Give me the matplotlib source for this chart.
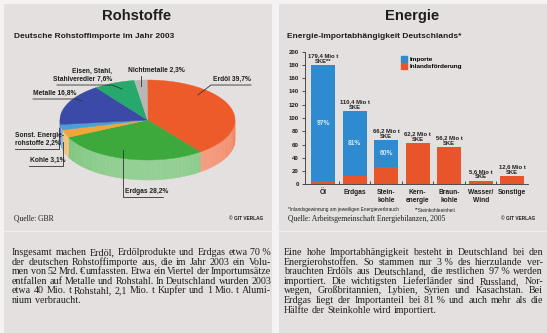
import matplotlib
matplotlib.use("Agg")
import matplotlib.pyplot as plt
import numpy as np
from matplotlib.patches import Polygon, Rectangle, Patch
from matplotlib.colors import to_rgb

# --- Rohstoffe (pie) ---
pie_labels = ["Erdöl 39,7%", "Erdgas 28,2%", "Kohle 3,1%", "Sonst. Energie-\nrohstoffe 2,2%",
              "Metalle 16,8%", "Eisen, Stahl,\nStahlveredler 7,6%", "Nichtmetalle 2,3%"]
pie_values = [39.7, 28.2, 3.1, 2.2, 16.8, 7.6, 2.3]
pie_colors = ["#ee5b2a", "#3da93c", "#f4a53a", "#4a9fd8", "#3b4aa6", "#27a86c", "#b9b7b5"]

# --- Energie (bars) ---
bar_cats = ["Öl", "Erdgas", "Stein-\nkohle", "Kern-\nenergie", "Braun-\nkohle", "Wasser/\nWind", "Sonstige"]
bar_total = [179.4, 110.4, 66.2, 62.2, 56.2, 5.6, 12.6]
bar_domestic = [5.0, 12.0, 26.5, 62.2, 56.2, 5.6, 12.6]
bar_share = ["97%", "81%", "60%", "", "", "", ""]
yticks = [0, 20, 40, 60, 80, 100, 120, 140, 160, 180, 200]

text_left = [
    "Insgesamt machen Erdöl, Erdölprodukte und Erdgas etwa 70\u00a0%",
    "der deutschen Rohstoffimporte aus, die im Jahr 2003 ein Volu-",
    "men von 52 Mrd. € umfassten. Etwa ein Viertel der Importumsätze",
    "entfallen auf Metalle und Rohstahl. In Deutschland wurden 2003",
    "etwa 40 Mio. t Rohstahl, 2,1 Mio. t Kupfer und 1 Mio. t Alumi-",
    "nium verbraucht.",
]
text_right = [
    "Eine hohe Importabhängigkeit besteht in Deutschland bei den",
    "Energierohstoffen. So stammen nur 3\u00a0% des hierzulande ver-",
    "brauchten Erdöls aus Deutschland, die restlichen 97\u00a0% werden",
    "importiert. Die wichtigsten Lieferländer sind Russland, Nor-",
    "wegen, Großbritannien, Lybien, Syrien und Kasachstan. Bei",
    "Erdgas liegt der Importanteil bei 81\u00a0% und auch mehr als die",
    "Hälfte der Steinkohle wird importiert.",
]

SANS = ["Liberation Sans", "DejaVu Sans"]
SERIF = ["Liberation Serif", "DejaVu Serif"]
INK = "#1e1e1e"

W, H = 547, 333
fig = plt.figure(figsize=(W / 100, H / 100), dpi=100)
fig.patch.set_facecolor("#f4f2f2")
bg = fig.add_axes([0, 0, 1, 1])
bg.set_xlim(0, W)
bg.set_ylim(H, 0)
bg.axis("off")

# panels
panel = "#e3e0df"
bg.add_patch(Rectangle((4, 4), 268, 340, color=panel, lw=0))
bg.add_patch(Rectangle((279, 4), 270, 340, color=panel, lw=0))
bg.plot([4, 272], [231, 231], color="#efeded", lw=1)
bg.plot([279, 547], [231, 231], color="#efeded", lw=1)

# headings
bg.text(137, 16, "Rohstoffe", family=SANS, weight="bold", fontsize=10.6, ha="center", va="center", color=INK)
bg.text(412, 16, "Energie", family=SANS, weight="bold", fontsize=10.6, ha="center", va="center", color=INK)
bg.text(14, 36, "Deutsche Rohstoffimporte im Jahr 2003", family=SANS, weight="bold", fontsize=6.0,
        va="center", color=INK)
bg.text(287, 36, "Energie-Importabhängigkeit Deutschlands*", family=SANS, weight="bold", fontsize=6.0,
        va="center", color=INK)

# --- 3D pie ---
cx, cy, rx, ry, depth = 147.5, 120, 87.5, 40, 20


def ell(t):
    t = np.radians(t)
    return cx + rx * np.cos(t), cy - ry * np.sin(t)


def lighter(c, f):
    r = np.array(to_rgb(c))
    return tuple(r + (1 - r) * f)


starts = []
a = 90.0
for v in pie_values:
    starts.append((a - 360 * v / 100, a))
    a -= 360 * v / 100

# side walls (front half only)
for (lo, hi), col in zip(starts, pie_colors):
    s_lo, s_hi = max(lo, -180), min(hi, 0)
    if s_lo >= s_hi:
        continue
    n = max(int((s_hi - s_lo) / 2), 2)
    ts = np.linspace(s_lo, s_hi, n + 1)
    for t0, t1 in zip(ts[:-1], ts[1:]):
        x0, y0 = ell(t0)
        x1, y1 = ell(t1)
        shade = 0.25 + 0.2 * np.cos(np.radians((t0 + t1) / 2 + 90))
        bg.add_patch(Polygon([(x0, y0), (x1, y1), (x1, y1 + depth), (x0, y0 + depth)],
                             closed=True, color=lighter(col, shade), lw=0.3))

# top face
for (lo, hi), col in zip(starts, pie_colors):
    ts = np.linspace(lo, hi, 80)
    pts = [(cx, cy)] + [ell(t) for t in ts]
    bg.add_patch(Polygon(pts, closed=True, color=col, lw=0.3))

# pie labels with leader lines
lab_kw = dict(family=SANS, weight="bold", fontsize=4.8, color=INK)
lead_kw = dict(color="#333333", lw=0.6)
bg.text(213, 83, pie_labels[0], va="bottom", **lab_kw)
bg.plot([251, 211, 198], [85, 85, 95], **lead_kw)
bg.text(125, 195, pie_labels[1], va="bottom", **lab_kw)
bg.plot([163, 123, 123], [197, 197, 150], **lead_kw)
bg.text(30, 164, pie_labels[2], va="bottom", **lab_kw)
bg.plot([29, 63, 63], [166, 166, 142], **lead_kw)
bg.text(15, 147, pie_labels[3], va="bottom", ha="left", linespacing=1.2, **lab_kw)
bg.plot([15, 59, 59], [149, 149, 128], **lead_kw)
bg.text(33, 97, pie_labels[4], va="bottom", **lab_kw)
bg.plot([33, 76, 82], [99, 99, 101], **lead_kw)
bg.text(112, 83, pie_labels[5], va="bottom", ha="right", multialignment="right", linespacing=1.2, **lab_kw)
bg.plot([57, 112, 122], [85, 85, 89], **lead_kw)
bg.text(128, 74, pie_labels[6], va="bottom", **lab_kw)
bg.plot([141, 141], [76, 86], **lead_kw)

# sources
bg.text(14, 219, "Quelle: GBR", family=SERIF, fontsize=5.5, va="center", color=INK)
bg.text(263, 219, "© GIT VERLAG", family=SANS, weight="bold", fontsize=3.4, ha="right", va="center", color=INK)
bg.text(288, 219, "Quelle: Arbeitsgemeinschaft Energiebilanzen, 2005", family=SERIF, fontsize=5.5,
        va="center", color=INK)
bg.text(535, 219, "© GIT VERLAG", family=SANS, weight="bold", fontsize=3.4, ha="right", va="center", color=INK)
bg.text(288, 210, "*Inlandsgewinnung am jeweiligen Energieverbrauch", family=SANS, fontsize=3.4,
        va="center", color=INK)
bg.text(415, 210, "**Steinkohleeinheit", family=SANS, fontsize=3.4, va="center", color=INK)

# --- bar chart ---
y0px, y200px = 184.3, 51.7
ax = fig.add_axes([305 / W, (H - y0px) / H, 223 / W, (y0px - y200px) / H])
ax.patch.set_alpha(0)
x = np.arange(len(bar_cats))
total = np.array(bar_total)
dom = np.array(bar_domestic)
blue, red = "#2e8bcf", "#e8552b"
ax.bar(x, dom, width=0.76, color=red, lw=0)
ax.bar(x, total - dom, bottom=dom, width=0.76, color=blue, lw=0)
ax.set_xlim(-0.57, 6.5)
ax.set_ylim(0, 200)
ax.set_yticks(yticks)
ax.set_yticklabels([str(v) for v in yticks], family=SANS, weight="bold", fontsize=4.4, color=INK)
ax.tick_params(axis="y", length=2.5, width=0.6, pad=2, color="#333333")
ax.set_xticks(x)
ax.set_xticklabels(bar_cats, family=SANS, weight="bold", fontsize=4.8, color=INK, linespacing=1.15)
ax.tick_params(axis="x", which="major", length=0, pad=3.5)
ax.set_xticks(x[:-1] + 0.5, minor=True)
ax.tick_params(axis="x", which="minor", direction="in", length=2.5, width=0.6, color="#333333")
for s in ["top", "right"]:
    ax.spines[s].set_visible(False)
for s in ["left", "bottom"]:
    ax.spines[s].set_linewidth(0.6)
    ax.spines[s].set_color("#333333")

for i, v in enumerate(total):
    star = "**" if i == 0 else ""
    ax.text(i, v + 2, f"{v:.1f}".replace(".", ",") + " Mio t\nSKE" + star, ha="center", va="bottom",
            family=SANS, weight="bold", fontsize=4.2, color=INK, linespacing=1.15)
    if bar_share[i]:
        ax.text(i, (v + dom[i]) / 2, bar_share[i], ha="center", va="center", family=SANS,
                weight="bold", fontsize=4.8, color="#d5eaf7")

ax.legend(handles=[Patch(color=blue, label="Importe"), Patch(color=red, label="Inlandsförderung")],
          loc="upper left", bbox_to_anchor=(401 / W, 1 - 56 / H), bbox_transform=fig.transFigure,
          frameon=False, handlelength=1.0, handleheight=1.0, handletextpad=0.3, labelspacing=0.2,
          borderpad=0, borderaxespad=0, prop=dict(family=SANS, weight="bold", size=4.6))

# --- justified body text ---
renderer = fig.canvas.get_renderer()
BODY = 7.2


def word_width(s):
    t = bg.text(0, 0, s, family=SERIF, fontsize=BODY)
    w = t.get_window_extent(renderer).width
    t.remove()
    return w


SPACE = word_width("a a") - 2 * word_width("a")


def body(lines, x0, x1, y_start, step):
    for k, line in enumerate(lines):
        y = y_start + k * step + 3
        words = line.split(" ")
        widths = [word_width(w) for w in words]
        if k == len(lines) - 1:
            gap = SPACE
        else:
            gap = (x1 - x0 - sum(widths)) / max(len(words) - 1, 1)
        xx = x0
        for w, wd in zip(words, widths):
            bg.text(xx, y, w, family=SERIF, fontsize=BODY, va="baseline", color=INK)
            xx += wd + gap


body(text_left, 12, 271, 252, 9.6)
body(text_right, 284, 543, 252, 9.6)

fig.savefig("out.png", dpi=100, facecolor=fig.get_facecolor())
